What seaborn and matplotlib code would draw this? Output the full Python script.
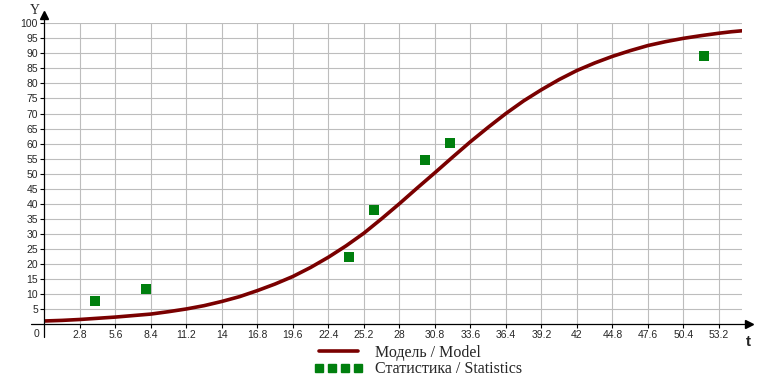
import matplotlib
matplotlib.use("Agg")
import matplotlib.pyplot as plt
import seaborn as sns
from matplotlib.lines import Line2D

# Model curve at every grid line and half way between
T_MODEL = [0, 1.4, 2.8, 4.2, 5.6, 7, 8.4, 9.8, 11.2, 12.6, 14, 15.4, 16.8,
           18.2, 19.6, 21, 22.4, 23.8, 25.2, 26.6, 28, 29.4, 30.8, 32.2,
           33.6, 35, 36.4, 37.8, 39.2, 40.6, 42, 43.4, 44.8, 46.2, 47.6, 49,
           50.4, 51.8, 53.2, 54.2, 55]
Y_MODEL = [1.0, 1.2, 1.5, 1.9, 2.3, 2.8, 3.3, 4.1, 5.0, 6.1, 7.5, 9.1, 11.1,
           13.3, 15.8, 18.8, 22.2, 26.0, 30.2, 35.0, 40.0, 45.2, 50.3, 55.5,
           60.6, 65.4, 70.0, 74.2, 77.9, 81.3, 84.3, 86.8, 89.0, 90.9, 92.6,
           93.9, 95.0, 95.9, 96.7, 97.2, 97.5]

# Statistics points
T_STAT = [4, 8, 24, 26, 30, 32, 52]
Y_STAT = [7.6, 11.8, 22.3, 38.0, 54.4, 60.2, 89.1]

X_TICKS = [2.8, 5.6, 8.4, 11.2, 14, 16.8, 19.6, 22.4, 25.2, 28, 30.8, 33.6,
           36.4, 39.2, 42, 44.8, 47.6, 50.4, 53.2]
Y_TICKS = list(range(5, 101, 5))

LINE_LABEL = "Модель / Model"
STAT_LABEL = "Статистика / Statistics"

sns.set_style("white")
plt.rcParams['font.family'] = ['Liberation Sans', 'DejaVu Sans']

RED = "#7a0000"
GREEN = "#007f0e"

fig = plt.figure(figsize=(7.72, 3.77), dpi=100)
ax = fig.add_axes([0.0574, 0.1406, 0.9034, 0.7976])

sns.lineplot(x=T_MODEL, y=Y_MODEL, color=RED, linewidth=2.6, ax=ax, zorder=3)
sns.scatterplot(x=T_STAT, y=Y_STAT, marker='s', s=46, color=GREEN,
                linewidth=0, ax=ax, zorder=4)

ax.set_xlim(0, 55)
ax.set_ylim(0, 100)
for s in ax.spines.values():
    s.set_visible(False)

ax.set_xticks(X_TICKS)
ax.set_xticklabels([f"{v:g}" for v in X_TICKS])
ax.set_yticks(Y_TICKS)
ax.tick_params(axis='both', direction='out', length=3, width=0.8,
               color='black', labelsize=7.5, pad=1.5)
ax.tick_params(axis='x', bottom=True)
ax.tick_params(axis='y', left=True)
ax.grid(True, color='#bdbdbd', linewidth=0.8)
ax.set_axisbelow(True)

# axis lines with arrows
ax.plot([-1.05, 55.4], [0, 0], color='black', lw=0.9, clip_on=False, zorder=5)
ax.plot([0, 0], [-4.3, 102.5], color='black', lw=0.9, clip_on=False, zorder=5)
ax.plot([55.55], [0], marker='>', markersize=6, color='black', clip_on=False,
        zorder=6)
ax.plot([0], [102.9], marker='^', markersize=6, color='black', clip_on=False,
        zorder=6)

ax.text(-0.35, -1.5, "0", ha='right', va='top', fontsize=7.5)
ax.text(-0.75, 104.2, "Y", ha='center', va='center', fontsize=10,
        family=['Liberation Serif'])
ax.text(55.5, -6, "t", ha='center', va='center', fontsize=11,
        fontweight='bold')

handles = [Line2D([], [], color=RED, lw=2.6),
           Line2D([], [], color=GREEN, marker='s', markersize=6.3,
                  linestyle='none')]
fig.legend(handles, [LINE_LABEL, STAT_LABEL], loc='upper left',
           bbox_to_anchor=(313 / 772 - 0.004, 1 - 340 / 377), frameon=False,
           numpoints=4, handlelength=3.0, handletextpad=0.75,
           labelspacing=0.02, borderaxespad=0, borderpad=0.3,
           prop={'family': 'Liberation Serif', 'size': 11.5})

fig.savefig("out.png", dpi=100)
